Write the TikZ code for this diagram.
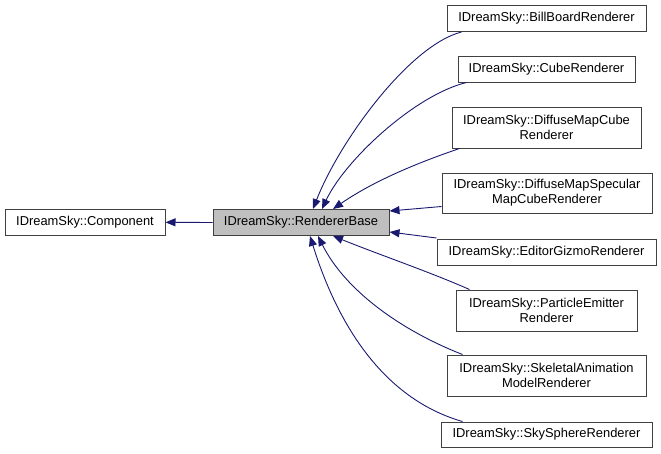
\documentclass[tikz,border=0pt]{standalone}
\usepackage{fontspec}
\setmainfont{Liberation Sans}
\usetikzlibrary{arrows.meta}
\definecolor{edgeblue}{RGB}{25,25,112}
\definecolor{boxgray}{RGB}{191,191,191}
\definecolor{borderc}{RGB}{64,64,64}
\begin{document}
\begin{tikzpicture}[x=1pt,y=-1pt,
  cls/.style={draw=borderc, line width=1pt, fill=white, inner sep=0pt, align=center,
    font=\fontsize{12.9}{15}\selectfont},
  edge/.style={draw=edgeblue, line width=0.9pt, -{Triangle[length=10pt,width=8pt]}}]
\useasboundingbox (0,0) rectangle (661,453);
\node[cls, minimum width=160pt, minimum height=26pt] (comp) at (85,222.3) {IDreamSky::Component};
\node[cls, fill=boxgray, minimum width=176pt, minimum height=26pt] (base) at (301,222.5) {IDreamSky::RendererBase};
\node[cls, minimum width=199pt, minimum height=26pt] (bb) at (546.5,18.5) {IDreamSky::BillBoardRenderer};
\node[cls, minimum width=177pt, minimum height=26pt] (cube) at (546.5,69) {IDreamSky::CubeRenderer};
\node[cls, minimum width=189pt, minimum height=41pt] (dmc) at (546.5,127.5) {IDreamSky::DiffuseMapCube\\Renderer};
\node[cls, minimum width=210pt, minimum height=40pt] (dms) at (547,193) {IDreamSky::DiffuseMapSpecular\\MapCubeRenderer};
\node[cls, minimum width=219pt, minimum height=26pt] (eg) at (546.5,252) {IDreamSky::EditorGizmoRenderer};
\node[cls, minimum width=181pt, minimum height=41pt] (pe) at (546.5,310.5) {IDreamSky::ParticleEmitter\\Renderer};
\node[cls, minimum width=199pt, minimum height=41pt] (sk) at (546.5,375.5) {IDreamSky::SkeletalAnimation\\ModelRenderer};
\node[cls, minimum width=211pt, minimum height=25pt] (ss) at (546.5,434.5) {IDreamSky::SkySphereRenderer};

\draw[edge] (base.west) -- (comp.east);
\draw[edge] ([xshift=15pt]bb.south west) .. controls (410,45) and (340,140) .. ([xshift=12pt]base.north);
\draw[edge] ([xshift=9pt]cube.south west) .. controls (415,95) and (345,160) .. ([xshift=21pt]base.north);
\draw[edge] ([xshift=8pt]dmc.south west) .. controls (420,162) and (375,180) .. ([xshift=32pt]base.north);
\draw[edge] ([yshift=7pt]dms.south west) -- ([yshift=11.5pt]base.east);
\draw[edge] ([yshift=0.5pt]eg.north west) -- ([yshift=-9.5pt]base.east);
\draw[edge] ([xshift=14pt]pe.north west) .. controls (430,272) and (380,255) .. ([xshift=32pt]base.south);
\draw[edge] ([xshift=16pt]sk.north west) .. controls (400,330) and (345,290) .. ([xshift=17pt]base.south);
\draw[edge] ([xshift=22pt]ss.north west) .. controls (370,395) and (330,300) .. ([xshift=9pt]base.south);
\end{tikzpicture}
\end{document}
